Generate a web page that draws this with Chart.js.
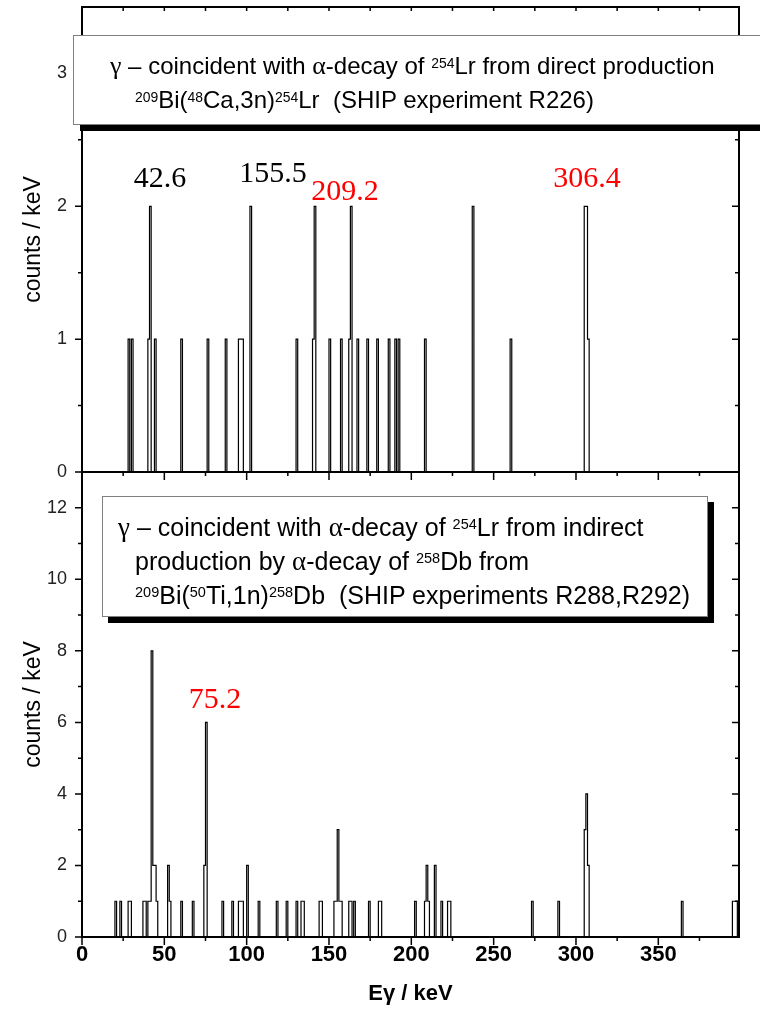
<!DOCTYPE html>
<html lang="en">
<head>
<meta charset="UTF-8">
<title>254Lr gamma spectra</title>
<script src="https://cdn.jsdelivr.net/npm/chart.js"></script>
<style>
  body { margin: 0; background: #fff; }
  #page { position: relative; width: 760px; height: 1016px; overflow: hidden; font-family: "Liberation Sans", Arial, sans-serif; }
  canvas { position: absolute; left: 0; }
  #cTop { top: 0; }
  #cBot { top: 472px; }
  .box { position: absolute; background: #fff; border: 1px solid #808080; color: #000; white-space: nowrap; }
  .box div { position: absolute; }
  #boxTop { font-size: 24px; }
  #boxTop div { line-height: 28px; }
  #boxBot { font-size: 25px; }
  #boxBot div { line-height: 30px; }
  .g { font-family: "Liberation Serif", serif; font-size: 1.08em; }
  sup { font-size: 0.58em; vertical-align: 0.45em; line-height: 0; }
  .peak { position: absolute; font-family: "Liberation Serif", serif; font-size: 30px; transform: translate(-50%, -50%); white-space: nowrap; }
  .red { color: #f00; }
</style>
</head>
<body>
<div id="page">
  <canvas id="cTop" width="760" height="480"></canvas>
  <canvas id="cBot" width="760" height="544"></canvas>

  <div class="box" id="boxTop" style="left:73px; top:35px; width:700px; height:88px; box-shadow:7px 6px 0 #000;">
    <div style="left:36px; top:16px;"><span class="g">γ</span> – coincident with <span class="g">α</span>-decay of <sup>254</sup>Lr from direct production</div>
    <div style="left:61px; top:50px;"><sup>209</sup>Bi(<sup>48</sup>Ca,3n)<sup>254</sup>Lr&nbsp; (SHIP experiment R226)</div>
  </div>

  <div class="box" id="boxBot" style="left:102px; top:496px; width:604px; height:119px; box-shadow:6px 6px 0 #000;">
    <div style="left:15px; top:15px;"><span class="g">γ</span> – coincident with <span class="g">α</span>-decay of <sup>254</sup>Lr from indirect</div>
    <div style="left:32px; top:49px;">production by <span class="g">α</span>-decay of <sup>258</sup>Db from</div>
    <div style="left:32px; top:83px;"><sup>209</sup>Bi(<sup>50</sup>Ti,1n)<sup>258</sup>Db&nbsp; (SHIP experiments R288,R292)</div>
  </div>

  <div class="peak" style="left:160px; top:177px;">42.6</div>
  <div class="peak" style="left:273px; top:172px;">155.5</div>
  <div class="peak red" style="left:345px; top:190px;">209.2</div>
  <div class="peak red" style="left:587px; top:177px;">306.4</div>
  <div class="peak red" style="left:215px; top:698px;">75.2</div>
</div>

<script>
  // energy axis, keV (1 keV bins)
  const X_MAX = 399;

  // direct production: bin start (keV) and counts
  const topBins   = [28, 30, 40, 41, 44, 60, 76, 87, 95, 96,
                     97, 102, 130, 140, 141, 150, 157, 162, 163, 167,
                     173, 179, 186, 190, 192, 208, 237, 260, 305, 306,
                     307];
  const topCounts = [1, 1, 1, 2, 1, 1, 1, 1, 1, 1,
                     1, 2, 1, 1, 2, 1, 1, 1, 2, 1,
                     1, 1, 1, 1, 1, 1, 2, 1, 2, 2,
                     1];

  // indirect production via 258Db
  const botBins   = [20, 23, 28, 29, 37, 38, 40, 41, 42, 43,
                     44, 45, 52, 53, 60, 67, 74, 75, 85, 91,
                     95, 96, 97, 100, 107, 118, 124, 130, 133, 134,
                     144, 145, 153, 154, 155, 156, 157, 162, 163, 165,
                     174, 180, 181, 202, 208, 209, 210, 214, 218, 222,
                     223, 273, 289, 305, 306, 307, 364, 395, 396, 397];
  const botCounts = [1, 1, 1, 1, 1, 1, 1, 1, 8, 2,
                     2, 1, 2, 1, 1, 1, 2, 6, 1, 1,
                     1, 1, 1, 2, 1, 1, 1, 1, 1, 1,
                     1, 1, 1, 1, 3, 1, 1, 1, 1, 1,
                     1, 1, 1, 1, 1, 2, 1, 2, 1, 1,
                     1, 1, 1, 3, 4, 2, 1, 1, 1, 1];

  const FONT = '"Liberation Sans", Arial, sans-serif';

  // full histogram, one point per bin edge
  function steps(bins, counts) {
    const c = new Array(X_MAX + 1).fill(0);
    bins.forEach((b, i) => { c[b] = counts[i]; });
    return c.map((v, e) => ({ x: e, y: v }));
  }

  // axis frame + Origin-style tick marks
  const framePlugin = {
    id: 'frame',
    afterDatasetsDraw(chart, args, o) {
      const { ctx, chartArea: a } = chart;
      const x = chart.scales.x, y = chart.scales.y;
      ctx.save();
      ctx.strokeStyle = '#000';
      ctx.lineWidth = 2;
      ctx.beginPath();
      ctx.moveTo(a.left, a.top); ctx.lineTo(a.left, a.bottom + 1);
      ctx.moveTo(a.right, a.top); ctx.lineTo(a.right, a.bottom + 1);
      ctx.moveTo(a.left - 1, a.bottom); ctx.lineTo(a.right + 1, a.bottom);
      if (o.top) { ctx.moveTo(a.left - 1, a.top); ctx.lineTo(a.right + 1, a.top); }
      ctx.stroke();

      ctx.lineWidth = 1.5;
      ctx.beginPath();
      x.ticks.forEach(t => {
        const px = x.getPixelForValue(t.value);
        const len = t.label !== '' ? 8 : 4;
        ctx.moveTo(px, a.bottom); ctx.lineTo(px, a.bottom + len);
        if (o.top) { ctx.moveTo(px, a.top); ctx.lineTo(px, a.top + 4); }
      });
      y.ticks.forEach(t => {
        if (t.value >= y.max) return;
        const py = y.getPixelForValue(t.value);
        const len = t.label !== '' ? 7 : 4;
        ctx.moveTo(a.left, py); ctx.lineTo(a.left - len, py);
        ctx.moveTo(a.right, py); ctx.lineTo(a.right - len, py);
      });
      ctx.stroke();
      ctx.restore();
    }
  };

  function lineSet(data) {
    return { data, borderColor: '#000', borderWidth: 1.2, pointRadius: 0, stepped: true, fill: false };
  }

  function yScale(max, step, major) {
    return {
      min: 0, max,
      grid: { display: false, drawTicks: false },
      border: { display: false },
      ticks: {
        stepSize: step, autoSkip: false, includeBounds: false, padding: 15,
        color: '#222', font: { size: 18, family: FONT },
        callback: v => (Math.abs(v / major - Math.round(v / major)) < 1e-6 ? String(v) : '')
      },
      title: { display: true, text: 'counts / keV', color: '#000', font: { size: 23, family: FONT }, padding: { top: 20, bottom: 0 } },
      afterFit: s => { s.width = 82; s.paddingTop = 0; s.paddingBottom = 0; }
    };
  }

  const xTicks = {
    stepSize: 25, autoSkip: false, includeBounds: false, maxRotation: 0,
    callback: v => (v % 50 === 0 ? String(v) : '')
  };

  new Chart(document.getElementById('cTop'), {
    type: 'line',
    data: { datasets: [lineSet(steps(topBins, topCounts))] },
    options: {
      responsive: false, animation: false,
      layout: { padding: { top: 7, right: 21, bottom: 8, left: 0 } },
      plugins: { legend: { display: false }, tooltip: { enabled: false }, frame: { top: true } },
      scales: {
        x: { type: 'linear', min: 0, max: X_MAX, display: false, ticks: xTicks },
        y: yScale(3.5, 0.5, 1)
      }
    },
    plugins: [framePlugin]
  });

  new Chart(document.getElementById('cBot'), {
    type: 'line',
    data: { datasets: [lineSet(steps(botBins, botCounts))] },
    options: {
      responsive: false, animation: false,
      layout: { padding: { top: 0, right: 21, bottom: 0, left: 0 } },
      plugins: { legend: { display: false }, tooltip: { enabled: false }, frame: { top: false } },
      scales: {
        x: {
          type: 'linear', min: 0, max: X_MAX,
          grid: { display: false, drawTicks: false },
          border: { display: false },
          ticks: Object.assign({}, xTicks, { padding: 5, color: '#000', font: { size: 22, weight: 'bold', family: FONT } }),
          title: { display: true, text: 'Eγ / keV', color: '#000', font: { size: 22, weight: 'bold', family: FONT }, padding: { top: 0, bottom: 9 } },
          afterFit: s => { s.height = 79; s.paddingLeft = 0; s.paddingRight = 0; }
        },
        y: yScale(13, 1, 2)
      }
    },
    plugins: [framePlugin]
  });
</script>
</body>
</html>
